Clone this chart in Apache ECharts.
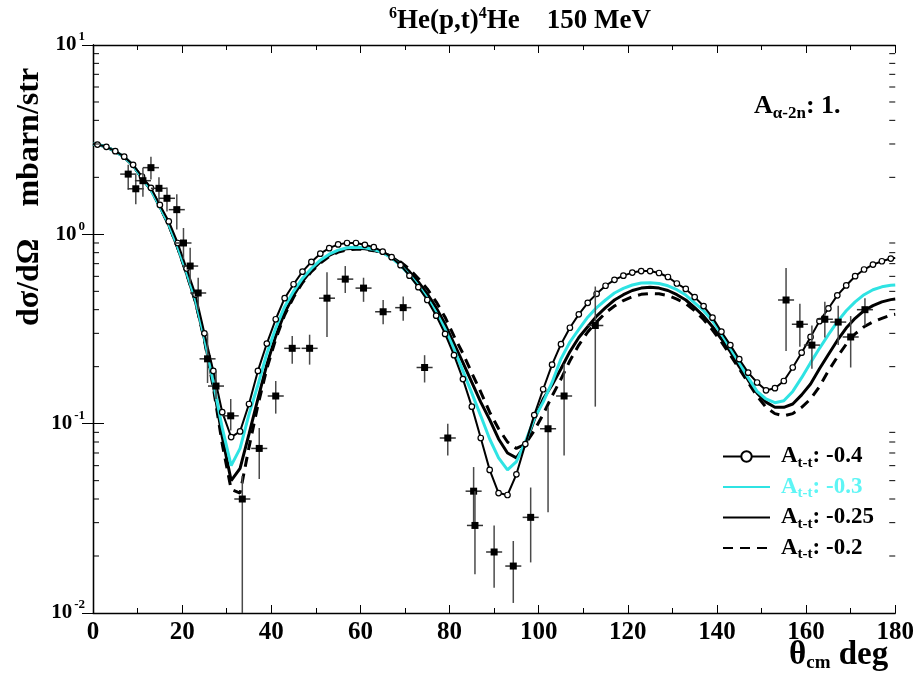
<!DOCTYPE html>
<html><head><meta charset="utf-8">
<script src="https://cdn.jsdelivr.net/npm/echarts@6/dist/echarts.min.js"></script>
<style>html,body{margin:0;padding:0;background:#fff}#c{width:917px;height:677px}</style>
</head><body><div id="c"></div>
<script>
// ---- theory curves (angle in deg, dσ/dΩ in mbarn/str) ----
const angles = [0,1,3,5,7,9,11,13,15,17,19,21,23,25,27,29,31,33,35,37,39,41,43,45,47,49,51,53,55,57,59,61,63,65,67,69,71,73,75,77,79,81,83,85,87,89,91,93,95,97,99,101,103,105,107,109,111,113,115,117,119,121,123,125,127,129,131,133,135,137,139,141,143,145,147,149,151,153,155,157,159,161,163,165,167,169,171,173,175,177,179,180];
const sigmaAtt04 = [3.0,2.98,2.9,2.75,2.57,2.33,2.02,1.76,1.43,1.17,0.9,0.66,0.48,0.30,0.19,0.115,0.085,0.091,0.127,0.19,0.265,0.356,0.46,0.545,0.635,0.715,0.79,0.845,0.885,0.9,0.9,0.88,0.855,0.81,0.757,0.687,0.605,0.526,0.45,0.372,0.298,0.23,0.172,0.123,0.084,0.057,0.043,0.042,0.054,0.078,0.111,0.152,0.205,0.263,0.321,0.378,0.435,0.485,0.535,0.575,0.605,0.628,0.64,0.64,0.625,0.595,0.55,0.515,0.466,0.418,0.363,0.306,0.26,0.219,0.186,0.165,0.15,0.154,0.168,0.198,0.237,0.287,0.348,0.406,0.476,0.537,0.601,0.652,0.692,0.721,0.745,0.75];
const sigmaAtt03 = [3.0,2.98,2.9,2.74,2.56,2.31,1.98,1.72,1.4,1.13,0.86,0.63,0.45,0.285,0.165,0.095,0.06,0.074,0.112,0.16,0.235,0.32,0.415,0.5,0.585,0.66,0.73,0.785,0.825,0.85,0.855,0.85,0.83,0.8,0.75,0.685,0.61,0.535,0.46,0.385,0.315,0.248,0.19,0.145,0.11,0.083,0.066,0.057,0.063,0.08,0.106,0.13,0.165,0.22,0.27,0.315,0.365,0.41,0.45,0.49,0.518,0.54,0.553,0.555,0.55,0.535,0.51,0.478,0.435,0.395,0.35,0.298,0.25,0.21,0.175,0.148,0.135,0.129,0.132,0.148,0.175,0.21,0.25,0.295,0.345,0.395,0.44,0.48,0.51,0.528,0.538,0.54];
const sigmaAtt025 = [3.0,2.98,2.9,2.74,2.56,2.31,1.98,1.72,1.4,1.12,0.85,0.62,0.44,0.28,0.16,0.085,0.05,0.058,0.088,0.135,0.205,0.29,0.385,0.475,0.565,0.645,0.715,0.775,0.815,0.84,0.845,0.84,0.825,0.8,0.76,0.705,0.635,0.56,0.485,0.41,0.335,0.265,0.21,0.165,0.13,0.105,0.083,0.07,0.066,0.077,0.105,0.135,0.16,0.195,0.24,0.285,0.325,0.37,0.41,0.45,0.48,0.505,0.52,0.525,0.52,0.505,0.48,0.45,0.41,0.37,0.325,0.28,0.24,0.2,0.17,0.145,0.13,0.122,0.122,0.127,0.142,0.162,0.195,0.232,0.275,0.32,0.36,0.395,0.42,0.44,0.452,0.455];
const sigmaAtt02 = [3.0,2.98,2.9,2.74,2.56,2.31,1.98,1.72,1.4,1.12,0.85,0.62,0.44,0.275,0.155,0.078,0.045,0.043,0.075,0.125,0.195,0.28,0.375,0.465,0.555,0.635,0.705,0.765,0.805,0.828,0.835,0.832,0.82,0.8,0.765,0.715,0.655,0.585,0.515,0.44,0.365,0.29,0.235,0.185,0.147,0.115,0.094,0.08,0.074,0.078,0.092,0.112,0.14,0.172,0.215,0.26,0.305,0.345,0.385,0.418,0.447,0.468,0.482,0.487,0.485,0.475,0.455,0.43,0.395,0.355,0.312,0.27,0.23,0.195,0.165,0.14,0.122,0.113,0.11,0.113,0.122,0.135,0.157,0.19,0.225,0.263,0.298,0.325,0.345,0.36,0.375,0.378];

// ---- experimental points ----
const expAngle = [7.9,9.6,11.2,13.0,14.8,16.6,18.8,20.3,21.8,23.6,25.7,27.6,30.9,33.5,37.3,41.0,44.7,48.6,52.5,56.6,60.7,65.1,69.6,74.4,79.6,85.4,85.7,90.0,94.3,98.2,102.1,105.7,112.7,155.5,158.6,161.3,164.2,167.2,170.0,173.2];
const expValue = [2.08,1.74,1.92,2.25,1.75,1.55,1.35,0.90,0.68,0.49,0.22,0.158,0.11,0.040,0.074,0.14,0.25,0.25,0.46,0.58,0.52,0.39,0.41,0.198,0.084,0.044,0.029,0.021,0.0177,0.032,0.094,0.14,0.33,0.45,0.335,0.26,0.356,0.344,0.287,0.40];
const expLow = [1.72,1.44,1.58,1.95,1.49,1.32,1.06,0.74,0.55,0.40,0.164,0.135,0.092,0.005,0.051,0.113,0.207,0.205,0.287,0.49,0.44,0.335,0.35,0.165,0.068,0.030,0.016,0.0136,0.0113,0.0185,0.034,0.068,0.123,0.242,0.255,0.195,0.285,0.26,0.198,0.33];
const expHigh = [2.33,2.07,2.25,2.57,2.0,1.77,1.63,1.08,0.85,0.59,0.30,0.19,0.135,0.053,0.095,0.168,0.29,0.295,0.63,0.68,0.59,0.45,0.47,0.23,0.10,0.059,0.044,0.029,0.024,0.046,0.122,0.207,0.53,0.665,0.43,0.33,0.44,0.42,0.37,0.46];
const expAngleErr = 1.8;

const xTickStep = 20;
const yMinorTicks = [0.02,0.03,0.04,0.05,0.06,0.07,0.08,0.09,0.2,0.3,0.4,0.5,0.6,0.7,0.8,0.9,2,3,4,5,6,7,8,9];
const seriesNames = ['A04','A03','A025','A02'];
const legendValues = ['-0.4','-0.3','-0.25','-0.2'];

const FONT = "'Liberation Serif','Times New Roman',serif";
const CYAN = '#2fe3e3';
const CYAN_TEXT = '#5ef5f5';

function pairs(ys){ return angles.map((a,i)=>[a, ys[i]]); }

const chart = echarts.init(document.getElementById('c'), null, {renderer:'canvas'});

const axisLineStyle = {color:'#000', width:1.3};
const hideSym = {opacity:0};

const option = {
  backgroundColor:'#fff',
  animation:false,
  title:{
    text:'{s|6}{b|He(p,t)}{s|4}{b|He    150 MeV}',
    left:384, top:1,
    textStyle:{ rich:{
      b:{fontFamily:FONT,fontWeight:'bold',fontSize:27,color:'#000'},
      s:{fontFamily:FONT,fontWeight:'bold',fontSize:16,color:'#000',padding:[0,0,14,0]}
    }}
  },
  grid:{left:93, right:17, top:45, bottom:64},
  legend:{
    orient:'vertical', left:717, top:440, itemWidth:47, itemHeight:13, itemGap:5,
    data:[
      {name:'A04'},
      {name:'A03', itemStyle:hideSym},
      {name:'A025', itemStyle:hideSym},
      {name:'A02', itemStyle:hideSym}
    ],
    formatter:function(name){
      const v = legendValues[seriesNames.indexOf(name)];
      if (name === 'A03') return '{ca|A}{csub|t-t}{c|: '+v+'}';
      return '{a|A}{sub|t-t}{b|: '+v+'}';
    },
    textStyle:{fontFamily:FONT,fontWeight:'bold',fontSize:23,color:'#000',
      rich:{
        a:{fontFamily:FONT,fontWeight:'bold',fontSize:23,color:'#000',padding:[0,0,0,6]},
        b:{fontFamily:FONT,fontWeight:'bold',fontSize:23,color:'#000'},
        sub:{fontFamily:FONT,fontWeight:'bold',fontSize:15,color:'#000',padding:[13,0,0,0]},
        ca:{fontFamily:FONT,fontWeight:'bold',fontSize:23,color:CYAN_TEXT,padding:[0,0,0,6]},
        c:{fontFamily:FONT,fontWeight:'bold',fontSize:23,color:CYAN_TEXT},
        csub:{fontFamily:FONT,fontWeight:'bold',fontSize:15,color:CYAN_TEXT,padding:[13,0,0,0]}
      }}
  },
  xAxis:[{
    type:'value', min:0, max:180, interval:xTickStep, position:'bottom',
    axisLine:{lineStyle:axisLineStyle},
    axisTick:{inside:true,length:8,lineStyle:{color:'#000'}},
    minorTick:{show:true,splitNumber:2,length:5,lineStyle:{color:'#000'}},
    splitLine:{show:false},
    axisLabel:{fontFamily:FONT,fontWeight:'bold',fontSize:25,color:'#000',margin:7}
  },{
    type:'value', min:0, max:180, interval:xTickStep, position:'top',
    axisLine:{lineStyle:axisLineStyle},
    axisTick:{inside:true,length:8,lineStyle:{color:'#000'}},
    minorTick:{show:true,splitNumber:2,length:5,lineStyle:{color:'#000'}},
    splitLine:{show:false}, axisLabel:{show:false}
  }],
  yAxis:[{
    type:'log', logBase:10, min:0.01, max:10, position:'left',
    axisLine:{lineStyle:axisLineStyle},
    axisTick:{inside:true,length:11,lineStyle:{color:'#000'}},
    splitLine:{show:false},
    axisLabel:{margin:8,
      formatter:function(v){ return '{b|10}{s|'+Math.round(Math.log10(v))+'}'; },
      rich:{
        b:{fontFamily:FONT,fontWeight:'bold',fontSize:21,color:'#000'},
        s:{fontFamily:FONT,fontWeight:'bold',fontSize:13,color:'#000',padding:[0,0,16,2]}
      }}
  },{
    type:'log', logBase:10, min:0.01, max:10, position:'right',
    axisLine:{lineStyle:axisLineStyle},
    axisTick:{inside:true,length:11,lineStyle:{color:'#000'}},
    splitLine:{show:false}, axisLabel:{show:false}
  }],
  graphic:[
    {type:'text', x:30, y:197, rotation:Math.PI/2,
     style:{text:'dσ/dΩ    mbarn/str', font:'bold 32px '+FONT, fill:'#000', align:'center', verticalAlign:'middle'}},
    {type:'text', x:789, y:638,
     style:{text:'{b|θ}{s|cm}{b| deg}', fill:'#000',
       rich:{b:{fontFamily:FONT,fontWeight:'bold',fontSize:33,fill:'#000'},
             s:{fontFamily:FONT,fontWeight:'bold',fontSize:19,fill:'#000',padding:[16,0,0,0]}}}},
    {type:'text', x:754, y:91,
     style:{text:'{b|A}{s|α-2n}{b|: 1.}', fill:'#000',
       rich:{b:{fontFamily:FONT,fontWeight:'bold',fontSize:26,fill:'#000'},
             s:{fontFamily:FONT,fontWeight:'bold',fontSize:17,fill:'#000',padding:[14,0,0,0]}}}}
  ],
  series:[
    {name:'A025', type:'line', data:pairs(sigmaAtt025), symbol:'none',
     lineStyle:{color:'#000',width:3}, itemStyle:{color:'#000'}, z:3},
    {name:'A02', type:'line', data:pairs(sigmaAtt02), symbol:'none',
     lineStyle:{color:'#000',width:3,type:[10,7]}, itemStyle:{color:'#000'}, z:3},
    {name:'A03', type:'line', data:pairs(sigmaAtt03), symbol:'none',
     lineStyle:{color:CYAN,width:3}, itemStyle:{color:CYAN}, z:4},
    {name:'A04', type:'line', data:pairs(sigmaAtt04), symbol:'circle',
     symbolSize:function(v,p){ return (p.dataIndex===0||p.dataIndex===angles.length-1)?0:5.5; },
     showAllSymbol:true,
     lineStyle:{color:'#000',width:2}, itemStyle:{color:'#fff',borderColor:'#000',borderWidth:1.2}, z:5},
    {type:'custom', name:'exp', clip:true, z:6, silent:true,
     data:expAngle.map((a,i)=>[a, expValue[i], expLow[i], expHigh[i]]),
     encode:{x:0,y:1},
     renderItem:function(params, api){
       const x=api.value(0), y=api.value(1), lo=api.value(2), hi=api.value(3);
       const c=api.coord([x,y]), cl=api.coord([x,lo]), ch=api.coord([x,hi]);
       const xl=api.coord([x-expAngleErr,y]), xr=api.coord([x+expAngleErr,y]);
       return {type:'group', children:[
         {type:'line', shape:{x1:cl[0],y1:cl[1],x2:ch[0],y2:ch[1]}, style:{stroke:'#4a4a4a',lineWidth:1.5}},
         {type:'line', shape:{x1:xl[0],y1:c[1],x2:xr[0],y2:c[1]}, style:{stroke:'#333',lineWidth:1.5}},
         {type:'rect', shape:{x:c[0]-3.5,y:c[1]-3.5,width:7,height:7}, style:{fill:'#000'}}
       ]};
     }},
    {type:'custom', name:'minorTicks', silent:true, z:7,
     data:yMinorTicks.map(v=>[0,v]), encode:{x:0,y:1},
     renderItem:function(params, api){
       const v=api.value(1);
       const l=api.coord([0,v]), r=api.coord([180,v]);
       return {type:'group', children:[
         {type:'line', shape:{x1:l[0],y1:l[1],x2:l[0]+6,y2:l[1]}, style:{stroke:'#000',lineWidth:1}},
         {type:'line', shape:{x1:r[0]-6,y1:r[1],x2:r[0],y2:r[1]}, style:{stroke:'#000',lineWidth:1}}
       ]};
     }}
  ]
};
chart.setOption(option);
</script></body></html>
